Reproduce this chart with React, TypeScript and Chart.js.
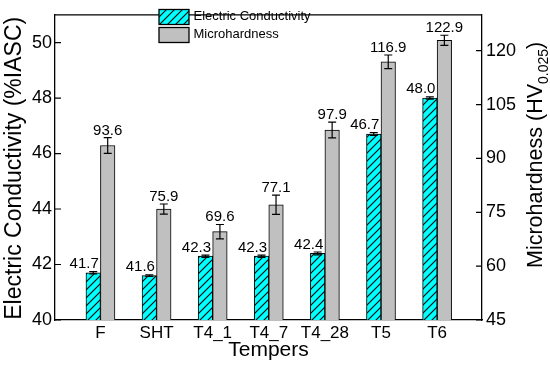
import React, { useEffect, useRef } from 'react';
import { Chart, registerables } from 'chart.js';

Chart.register(...registerables);

const categories = ['F', 'SHT', 'T4_1', 'T4_7', 'T4_28', 'T5', 'T6'];
const conductivity = [41.7, 41.6, 42.3, 42.3, 42.4, 46.7, 48.0];
const conductivityErr = [0.04, 0.03, 0.04, 0.04, 0.05, 0.05, 0.04];
const hardness = [93.6, 75.9, 69.6, 77.1, 97.9, 116.9, 122.9];
const hardnessErr = [2.2, 1.4, 2.0, 2.7, 2.2, 1.9, 1.4];
const leftTicks = [40, 42, 44, 46, 48, 50];
const rightTicks = [45, 60, 75, 90, 105, 120];
const legendLabels = ['Electric Conductivity', 'Microhardness'];
const xTitle = 'Tempers';
const leftTitle = 'Electric Conductivity (%IASC)';
const rightTitleMain = 'Microhardness (HV';
const rightTitleSub = '0.025';

const FONT = 'Arial, "Liberation Sans", sans-serif';
const CYAN = '#00FFFF';
const GRAY = '#C0C0C0';

function makeHatch(ctx: CanvasRenderingContext2D): CanvasPattern | string {
  const c = document.createElement('canvas');
  c.width = 8;
  c.height = 8;
  const g = c.getContext('2d');
  if (!g) return CYAN;
  g.fillStyle = CYAN;
  g.fillRect(0, 0, 8, 8);
  g.strokeStyle = '#000';
  g.lineWidth = 1.1;
  g.beginPath();
  g.moveTo(0, 8);
  g.lineTo(8, 0);
  g.moveTo(-2, 2);
  g.lineTo(2, -2);
  g.moveTo(6, 10);
  g.lineTo(10, 6);
  g.stroke();
  return ctx.createPattern(c, 'repeat') || CYAN;
}

export default function App() {
  const ref = useRef<HTMLCanvasElement | null>(null);

  useEffect(() => {
    const canvas = ref.current;
    if (!canvas) return;
    const ctx0 = canvas.getContext('2d');
    if (!ctx0) return;
    const hatch = makeHatch(ctx0);

    const decor = {
      id: 'decor',
      afterDatasetsDraw(chart: any) {
        const ctx = chart.ctx as CanvasRenderingContext2D;
        const sets: [number[], number[], string, number, number][] = [
          [conductivity, conductivityErr, 'y', -9, 3.5],
          [hardness, hardnessErr, 'y2', 0, 3],
        ];
        ctx.save();
        sets.forEach(([vals, errs, axis, dx, gap], di) => {
          const meta = chart.getDatasetMeta(di);
          const sc = chart.scales[axis];
          meta.data.forEach((el: any, i: number) => {
            const x = el.x;
            const yt = sc.getPixelForValue(vals[i] + errs[i]);
            const yb = sc.getPixelForValue(vals[i] - errs[i]);
            ctx.strokeStyle = '#000';
            ctx.lineWidth = 1.2;
            ctx.beginPath();
            ctx.moveTo(x, yt);
            ctx.lineTo(x, yb);
            ctx.moveTo(x - 4, yt);
            ctx.lineTo(x + 4, yt);
            ctx.moveTo(x - 4, yb);
            ctx.lineTo(x + 4, yb);
            ctx.stroke();
            ctx.fillStyle = '#000';
            ctx.font = `15px ${FONT}`;
            ctx.textAlign = 'center';
            ctx.textBaseline = 'alphabetic';
            ctx.fillText(vals[i].toFixed(1), x + dx, yt - gap);
          });
        });
        ctx.restore();
      },
      afterDraw(chart: any) {
        const ctx = chart.ctx as CanvasRenderingContext2D;
        const { left, right, top } = chart.chartArea;
        ctx.save();
        ctx.strokeStyle = '#000';
        ctx.lineWidth = 1.3;
        ctx.beginPath();
        ctx.moveTo(left, top);
        ctx.lineTo(right, top);
        ctx.stroke();
        ctx.lineWidth = 1.2;
        const ys = chart.scales.y;
        const y2 = chart.scales.y2;
        ctx.beginPath();
        leftTicks.forEach((v) => {
          const p = ys.getPixelForValue(v);
          ctx.moveTo(left, p);
          ctx.lineTo(left + 6, p);
        });
        rightTicks.forEach((v) => {
          const p = y2.getPixelForValue(v);
          ctx.moveTo(right, p);
          ctx.lineTo(right - 6, p);
        });
        ctx.stroke();
        ctx.fillStyle = '#000';
        ctx.save();
        ctx.translate(21, 168.3);
        ctx.rotate(-Math.PI / 2);
        ctx.font = `23px ${FONT}`;
        ctx.textAlign = 'center';
        ctx.textBaseline = 'alphabetic';
        ctx.fillText(leftTitle, 0, 0);
        ctx.restore();
        ctx.save();
        ctx.translate(541.5, 268);
        ctx.rotate(-Math.PI / 2);
        ctx.textAlign = 'left';
        ctx.textBaseline = 'alphabetic';
        ctx.font = `21.5px ${FONT}`;
        ctx.fillText(rightTitleMain, 0, 0);
        let w = ctx.measureText(rightTitleMain).width;
        ctx.font = `14px ${FONT}`;
        ctx.fillText(rightTitleSub, w, 6);
        w += ctx.measureText(rightTitleSub).width;
        ctx.font = `21.5px ${FONT}`;
        ctx.fillText(')', w, 0);
        ctx.restore();
        const fills: (CanvasPattern | string)[] = [hatch, GRAY];
        const boxYs = [9.5, 27.5];
        legendLabels.forEach((lab, i) => {
          ctx.fillStyle = fills[i];
          ctx.fillRect(159, boxYs[i], 30, 15);
          ctx.strokeStyle = '#000';
          ctx.lineWidth = 1.3;
          ctx.strokeRect(159, boxYs[i], 30, 15);
          ctx.fillStyle = '#000';
          ctx.font = `13px ${FONT}`;
          ctx.textAlign = 'left';
          ctx.textBaseline = 'middle';
          ctx.fillText(lab, 193.5, boxYs[i] + 7);
        });
        ctx.restore();
      },
    };

    const border = { display: true, color: '#000', width: 1.3 };
    const chart = new Chart(canvas, {
      type: 'bar',
      data: {
        datasets: [
          {
            label: legendLabels[0],
            data: conductivity.map((v, i) => ({ x: i, y: v })),
            yAxisID: 'y',
            backgroundColor: hatch as any,
            borderColor: '#000',
            borderWidth: 1,
            borderSkipped: false,
            barThickness: 14.5,
          },
          {
            label: legendLabels[1],
            data: hardness.map((v, i) => ({ x: i, y: v })),
            yAxisID: 'y2',
            backgroundColor: GRAY,
            borderColor: '#000',
            borderWidth: 1,
            borderSkipped: false,
            barThickness: 14.5,
          },
        ] as any,
      },
      options: {
        responsive: false,
        animation: false,
        devicePixelRatio: 1,
        layout: { padding: { top: 4, left: 0, right: 0, bottom: 0 } },
        plugins: { legend: { display: false }, tooltip: { enabled: false } },
        scales: {
          x: {
            type: 'linear',
            position: 'bottom',
            offset: false,
            min: -0.81,
            max: 6.8,
            grid: { display: false, drawTicks: false, offset: false },
            border,
            afterBuildTicks: (s: any) => {
              s.ticks = categories.map((_, i) => ({ value: i }));
            },
            afterFit: (s: any) => {
              s.height = 46;
            },
            ticks: {
              autoSkip: false,
              maxRotation: 0,
              padding: 3,
              color: '#000',
              font: { family: FONT, size: 17 },
              callback: (v: any) => categories[Number(v)] ?? '',
            },
            title: {
              display: true,
              text: xTitle,
              color: '#000',
              font: { family: FONT, size: 21 },
              padding: { top: 0, bottom: 3 },
            },
          },
          y: {
            type: 'linear',
            position: 'left',
            min: 40,
            max: 51,
            grid: { display: false, drawTicks: false },
            border,
            afterBuildTicks: (s: any) => {
              s.ticks = leftTicks.map((v) => ({ value: v }));
            },
            afterFit: (s: any) => {
              s.width = 55;
            },
            ticks: { padding: 3, color: '#000', font: { family: FONT, size: 18 } },
          },
          y2: {
            type: 'linear',
            position: 'right',
            min: 45,
            max: 130,
            grid: { display: false, drawTicks: false },
            border,
            afterBuildTicks: (s: any) => {
              s.ticks = rightTicks.map((v) => ({ value: v }));
            },
            afterFit: (s: any) => {
              s.width = 68;
            },
            ticks: { padding: 4, color: '#000', font: { family: FONT, size: 18 } },
          },
        },
      } as any,
      plugins: [decor],
    });
    return () => chart.destroy();
  }, []);

  return (
    <div style={{ position: 'absolute', left: 0, top: 0, width: 550, height: 366, background: '#fff' }}>
      <canvas ref={ref} width={550} height={366} style={{ display: 'block' }} />
    </div>
  );
}
